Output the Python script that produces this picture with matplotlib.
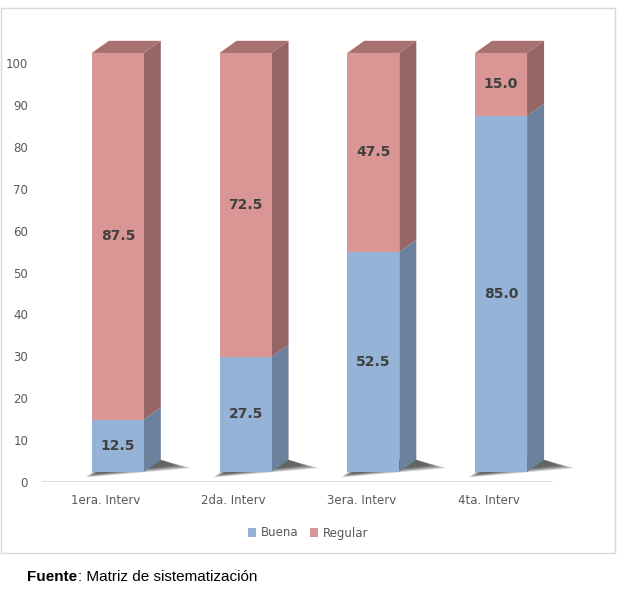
import matplotlib.pyplot as plt
from matplotlib.patches import Polygon, Rectangle
import numpy as np

categories = ["1era. Interv", "2da. Interv", "3era. Interv", "4ta. Interv"]
buena = [12.5, 27.5, 52.5, 85.0]
regular = [87.5, 72.5, 47.5, 15.0]

# colours (Excel 2010 3D style)
blue_front, blue_side, blue_top = "#95B3D7", "#6B819E", "#7D97B8"
red_front, red_side, red_top = "#D99694", "#956665", "#A8716F"

# 3D geometry in data units
xoff = -0.11      # front face left edge relative to category centre
w = 0.407         # front face width
yoff = 2.4        # front face lifted above axis
dx, dy = 0.133, 2.9   # depth offset

fig = plt.figure(figsize=(6.18, 5.95), dpi=100)
ax = fig.add_axes([42 / 618, (595 - 482) / 595, (553 - 42) / 618, 452 / 595])
ax.set_xlim(-0.5, 3.5)
ax.set_ylim(0, 452 / 4.19)


def box(x0, y0, y1, front, side, top, draw_top):
    x1 = x0 + w
    # side face
    ax.add_patch(Polygon([[x1, y0], [x1 + dx, y0 + dy], [x1 + dx, y1 + dy], [x1, y1]],
                         closed=True, facecolor=side, edgecolor="none", zorder=3))
    if draw_top:
        ax.add_patch(Polygon([[x0, y1], [x1, y1], [x1 + dx, y1 + dy], [x0 + dx, y1 + dy]],
                             closed=True, facecolor=top, edgecolor="none", zorder=3))
    ax.add_patch(Rectangle((x0, y0), w, y1 - y0, facecolor=front, edgecolor="none", zorder=4))


for i, (b, r) in enumerate(zip(buena, regular)):
    x0 = i + xoff
    # soft shadow under the bar
    for k in range(8):
        s = k * 0.012
        ax.add_patch(Polygon([[x0 - 0.05 + s, yoff - 1.3 + k * 0.12],
                              [x0 + w + dx + 0.24 - 1.6 * s, yoff + 0.9 + k * 0.1],
                              [x0 + w + dx, yoff + dy],
                              [x0 + dx, yoff + dy]],
                             closed=True, facecolor="#1a1a1a", alpha=0.13,
                             edgecolor="none", zorder=2, clip_on=False))
    box(x0, yoff, yoff + b, blue_front, blue_side, blue_top, False)
    box(x0, yoff + b, yoff + b + r, red_front, red_side, red_top, True)
    ax.text(x0 + w / 2, yoff + b / 2, f"{b:.1f}", ha="center", va="center",
            fontsize=10, fontweight="bold", color="#404040", zorder=5)
    ax.text(x0 + w / 2, yoff + b + r / 2, f"{r:.1f}", ha="center", va="center",
            fontsize=10, fontweight="bold", color="#404040", zorder=5)

ax.axhline(0, color="#D9D9D9", lw=1.2, zorder=1)
for s in ax.spines.values():
    s.set_visible(False)
ax.set_yticks(np.arange(0, 101, 10))
ax.set_xticks(range(len(categories)))
ax.set_xticklabels(categories)
ax.tick_params(length=0, labelsize=8.5, labelcolor="#595959")
ax.tick_params(axis="y", pad=10)
ax.tick_params(axis="x", pad=9)

# legend
hb = Rectangle((0, 0), 1, 1, facecolor=blue_front)
hr = Rectangle((0, 0), 1, 1, facecolor=red_front)
fig.legend([hb, hr], ["Buena", "Regular"], loc="center", bbox_to_anchor=(308 / 618, 1 - 533 / 595),
           ncol=2, frameon=False, fontsize=8.5, labelcolor="#595959",
           handlelength=0.7, handleheight=0.7, handletextpad=0.4, columnspacing=1.0)

# chart border
fig.patches.append(Rectangle((1 / 618, 1 - 553 / 595), 614 / 618, 545 / 595,
                             transform=fig.transFigure, facecolor="none",
                             edgecolor="#D9D9D9", lw=1))

fig.text(27 / 618, 1 - 577 / 595, "Fuente", fontsize=11, fontweight="bold",
         family="Liberation Sans", va="center", ha="left")
fig.text(78 / 618, 1 - 577 / 595, ": Matriz de sistematización", fontsize=11,
         family="Liberation Sans", va="center", ha="left")

fig.savefig("out.png", dpi=100)
